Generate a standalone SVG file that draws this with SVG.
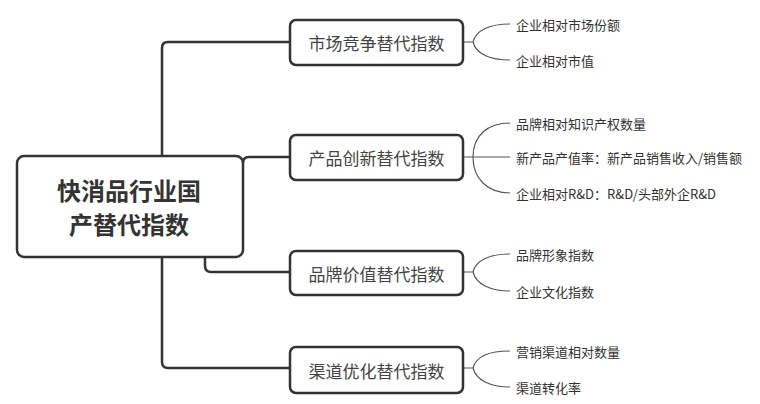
<svg xmlns="http://www.w3.org/2000/svg" width="760" height="404" viewBox="0 0 760 404">
<style>
.main{fill:none;stroke:#333;stroke-width:2.5;stroke-linejoin:round}
.leaf{fill:none;stroke:#555;stroke-width:1.2}
.box{fill:#fff;stroke:#333;stroke-width:2.5}
.bt{font-family:"Noto Sans CJK SC","Noto Sans",sans-serif;font-size:17px;fill:#444;text-anchor:middle;dominant-baseline:central}
.lt{font-family:"Noto Sans CJK SC","Noto Sans",sans-serif;font-size:13px;fill:#333;dominant-baseline:central}
.rt{font-family:"Noto Sans CJK SC","Noto Sans",sans-serif;font-size:24px;font-weight:bold;fill:#333;text-anchor:middle;dominant-baseline:central}
</style>
<rect width="760" height="404" fill="#fff"/>
<g id="connectors">
<path class="main" d="M290,42 H168 Q162,42 162,48 V362 Q162,368 168,368 H290"/>
<path class="main" d="M243,163 Q243,157 249,157 H290"/>
<path class="main" d="M205,257 V266 Q205,272 211,272 H290"/>
<path class="leaf" d="M463,42 H473 M473,42 C476,30 490,24 510,24 M473,42 C476,54 490,60 510,60"/>
<path class="leaf" d="M463,157 H510 M473,157 C473,135 488,123 510,123 M473,157 C473,179 488,193 510,193"/>
<path class="leaf" d="M463,272 H473 M473,272 C476,260 490,254 510,254 M473,272 C476,284 490,291 510,291"/>
<path class="leaf" d="M463,368 H473 M473,368 C476,356 490,351 510,351 M473,368 C476,380 490,387 510,387"/>
</g>
<g id="root">
<rect class="box" x="17" y="156" width="226" height="101" rx="7"/>
<text class="rt" x="129" y="189">快消品行业国</text>
<text class="rt" x="129" y="223">产替代指数</text>
</g>
<g id="n1">
<rect class="box" x="290" y="20" width="173" height="45" rx="6"/>
<text class="bt" x="376.5" y="42.5">市场竞争替代指数</text>
</g>
<g id="n2">
<rect class="box" x="290" y="135" width="173" height="45" rx="6"/>
<text class="bt" x="376.5" y="157.5">产品创新替代指数</text>
</g>
<g id="n3">
<rect class="box" x="290" y="251" width="173" height="44" rx="6"/>
<text class="bt" x="376.5" y="273">品牌价值替代指数</text>
</g>
<g id="n4">
<rect class="box" x="290" y="347" width="173" height="46" rx="6"/>
<text class="bt" x="376.5" y="370">渠道优化替代指数</text>
</g>
<g id="leaves">
<text class="lt" x="516" y="24">企业相对市场份额</text>
<text class="lt" x="516" y="60">企业相对市值</text>
<text class="lt" x="516" y="123">品牌相对知识产权数量</text>
<text class="lt" x="516" y="157">新产品产值率：新产品销售收入/销售额</text>
<text class="lt" x="516" y="193">企业相对R&amp;D：R&amp;D/头部外企R&amp;D</text>
<text class="lt" x="516" y="254">品牌形象指数</text>
<text class="lt" x="516" y="291">企业文化指数</text>
<text class="lt" x="516" y="351">营销渠道相对数量</text>
<text class="lt" x="516" y="387">渠道转化率</text>
</g>
</svg>
